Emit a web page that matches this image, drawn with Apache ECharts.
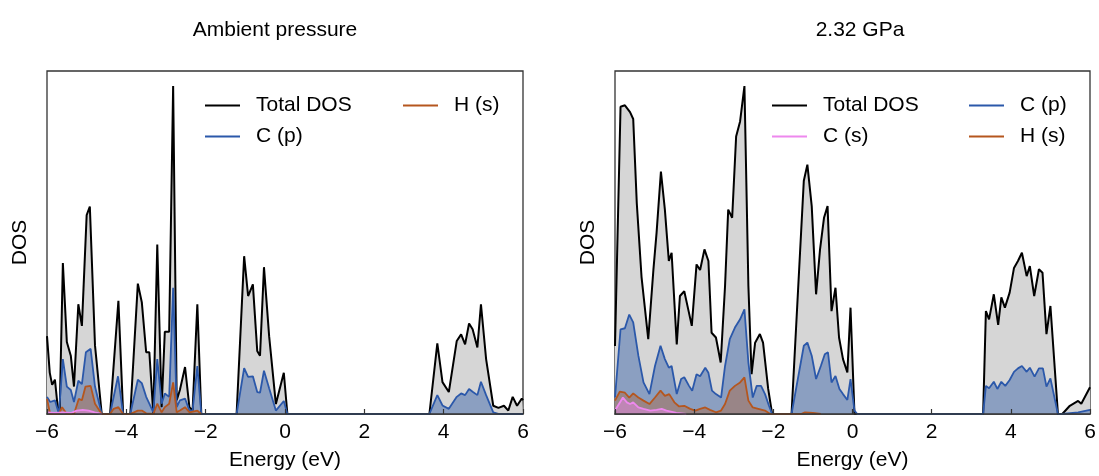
<!DOCTYPE html>
<html>
<head>
<meta charset="utf-8">
<script src="https://cdn.jsdelivr.net/npm/echarts@6/dist/echarts.min.js"></script>
<style>
  html, body { margin: 0; padding: 0; background: #fff; }
  #dos-chart { width: 1099px; height: 476px; }
</style>
</head>
<body>
<div id="dos-chart"></div>
<script>
// [energy (eV), DOS] pairs, arbitrary DOS units
const ambientTotal = [[-6, 2.27], [-5.93, 1.2], [-5.87, 0.85], [-5.8, 1.0], [-5.73, 0.2], [-5.68, 0.1], [-5.6, 4.4], [-5.5, 2.1], [-5.4, 1.7], [-5.32, 0.8], [-5.21, 3.2], [-5.12, 2.57], [-5.0, 5.8], [-4.92, 6.05], [-4.79, 2.0], [-4.62, 0], [-4.41, 0], [-4.2, 3.3], [-4.08, 0], [-3.9, 0], [-3.71, 3.8], [-3.61, 3.26], [-3.5, 1.8], [-3.42, 1.8], [-3.32, 0], [-3.22, 4.94], [-3.11, 0.2], [-3.03, 2.4], [-2.92, 2.4], [-2.82, 9.56], [-2.73, 0.4], [-2.65, 0.7], [-2.52, 1.37], [-2.41, 0.2], [-2.33, 0.1], [-2.21, 3.2], [-2.11, 0], [-1.22, 0], [-1.03, 4.6], [-0.93, 3.44], [-0.81, 3.78], [-0.7, 1.84], [-0.63, 1.7], [-0.53, 4.28], [-0.4, 2.27], [-0.23, 0.29], [-0.03, 1.2], [0.06, 0], [3.64, 0], [3.84, 2.06], [3.97, 0.93], [4.13, 0.64], [4.33, 2.13], [4.44, 2.32], [4.54, 2.03], [4.64, 2.64], [4.73, 2.47], [4.85, 1.94], [4.94, 3.2], [5.07, 1.6], [5.25, 0.24], [5.38, 0.18], [5.52, 0.24], [5.63, 0.1], [5.74, 0.5], [5.85, 0.24], [5.97, 0.45], [6, 0.4]];
const ambientCp = [[-6, 0.5], [-5.92, 0.35], [-5.8, 0.4], [-5.7, 0], [-5.6, 1.6], [-5.5, 0.8], [-5.4, 0.7], [-5.32, 0.35], [-5.21, 0.97], [-5.12, 0.87], [-5.02, 1.8], [-4.9, 1.9], [-4.79, 0.8], [-4.62, 0], [-4.41, 0], [-4.21, 1.1], [-4.08, 0], [-3.9, 0], [-3.71, 1.0], [-3.61, 0.9], [-3.5, 0.5], [-3.42, 0.3], [-3.32, 0.05], [-3.22, 1.6], [-3.11, 0.3], [-3.03, 0.6], [-2.92, 0.5], [-2.82, 3.68], [-2.73, 0.2], [-2.65, 0.4], [-2.52, 0.45], [-2.41, 0.1], [-2.33, 0.1], [-2.21, 1.4], [-2.11, 0], [-1.22, 0], [-1.03, 1.34], [-0.93, 1.08], [-0.81, 1.1], [-0.7, 0.64], [-0.63, 0.62], [-0.53, 1.26], [-0.4, 0.75], [-0.23, 0.1], [-0.03, 0.38], [0.06, 0], [3.64, 0], [3.84, 0.55], [3.97, 0.25], [4.13, 0.15], [4.33, 0.5], [4.44, 0.6], [4.54, 0.55], [4.64, 0.73], [4.73, 0.65], [4.85, 0.55], [4.94, 0.94], [5.07, 0.55], [5.25, 0.05], [5.4, 0], [6, 0]];
const ambientHs = [[-6, 0.44], [-5.92, 0], [-5.7, 0], [-5.62, 0.2], [-5.5, 0], [-5.32, 0], [-5.2, 0.44], [-5.12, 0.4], [-5.03, 0.8], [-4.9, 0.82], [-4.79, 0.3], [-4.62, 0], [-4.41, 0], [-4.32, 0.15], [-4.2, 0.2], [-4.08, 0], [-3.9, 0], [-3.71, 0.1], [-3.61, 0.1], [-3.5, 0.02], [-3.32, 0], [-3.22, 0.3], [-3.11, 0.05], [-3.03, 0.2], [-2.92, 0.3], [-2.82, 0.92], [-2.73, 0.05], [-2.65, 0.1], [-2.52, 0.2], [-2.41, 0.05], [-2.21, 0.1], [-2.11, 0]];
const ambientCs = [[-6, 0.05], [-5.8, 0.03], [-5.6, 0.05], [-5.4, 0.03], [-5.25, 0.1], [-5.1, 0.12], [-4.95, 0.1], [-4.8, 0.05], [-4.62, 0]];

const pressureTotal = [[-6, 1.98], [-5.86, 8.96], [-5.75, 9.0], [-5.62, 8.8], [-5.54, 8.6], [-5.45, 6.15], [-5.33, 4.0], [-5.16, 2.18], [-5.03, 4.2], [-4.95, 5.28], [-4.84, 7.07], [-4.74, 5.96], [-4.64, 4.46], [-4.57, 4.7], [-4.44, 2.03], [-4.36, 3.44], [-4.25, 3.58], [-4.15, 3.05], [-4.06, 2.57], [-3.94, 4.36], [-3.85, 4.2], [-3.74, 4.8], [-3.64, 4.46], [-3.56, 2.37], [-3.45, 2.23], [-3.33, 1.5], [-3.22, 3.73], [-3.14, 5.96], [-3.04, 5.72], [-2.94, 8.09], [-2.84, 8.53], [-2.73, 9.56], [-2.63, 3.73], [-2.55, 1.16], [-2.46, 2.08], [-2.34, 2.33], [-2.26, 2.08], [-2.13, 0.73], [-2.03, 0], [-1.54, 0], [-1.23, 6.8], [-1.14, 7.27], [-1.03, 6.06], [-0.92, 3.49], [-0.82, 4.8], [-0.72, 5.72], [-0.63, 6.06], [-0.53, 3.0], [-0.43, 3.68], [-0.34, 2.23], [-0.24, 1.6], [-0.13, 1.21], [-0.05, 3.1], [0.05, 0], [3.3, 0], [3.37, 3.0], [3.45, 2.76], [3.57, 3.49], [3.68, 2.6], [3.76, 3.4], [3.85, 3.1], [3.97, 3.54], [4.08, 4.26], [4.18, 4.46], [4.28, 4.7], [4.4, 4.02], [4.48, 4.31], [4.59, 3.44], [4.71, 4.22], [4.8, 4.12], [4.9, 2.33], [5.0, 3.15], [5.19, 0], [5.3, 0], [5.49, 0.24], [5.7, 0.38], [5.78, 0.3], [6, 0.78]];
const pressureCp = [[-6, 0.48], [-5.86, 2.47], [-5.75, 2.5], [-5.64, 2.9], [-5.54, 2.67], [-5.41, 1.7], [-5.28, 0.92], [-5.13, 0.58], [-4.99, 1.4], [-4.85, 1.99], [-4.74, 1.6], [-4.64, 1.35], [-4.57, 1.4], [-4.44, 0.58], [-4.33, 1.02], [-4.25, 1.07], [-4.13, 0.82], [-4.05, 0.68], [-3.94, 1.16], [-3.85, 1.1], [-3.72, 1.35], [-3.64, 1.2], [-3.55, 0.68], [-3.45, 0.58], [-3.32, 0.48], [-3.22, 1.4], [-3.1, 2.18], [-2.97, 2.52], [-2.84, 2.76], [-2.73, 3.05], [-2.63, 1.5], [-2.52, 0.48], [-2.42, 0.82], [-2.31, 0.82], [-2.21, 0.58], [-2.11, 0.24], [-2.03, 0], [-1.54, 0], [-1.23, 1.99], [-1.14, 2.08], [-1.03, 1.7], [-0.92, 1.02], [-0.8, 1.4], [-0.7, 1.74], [-0.62, 1.8], [-0.53, 0.92], [-0.43, 1.11], [-0.33, 0.73], [-0.24, 0.58], [-0.13, 0.41], [-0.05, 1.02], [0.05, 0.1], [0.12, 0], [3.3, 0], [3.37, 0.82], [3.45, 0.75], [3.57, 0.94], [3.66, 0.73], [3.76, 0.94], [3.86, 0.82], [3.97, 0.99], [4.08, 1.23], [4.18, 1.33], [4.28, 1.4], [4.4, 1.23], [4.48, 1.35], [4.6, 1.09], [4.71, 1.33], [4.81, 1.33], [4.9, 0.8], [5.0, 1.04], [5.19, 0], [5.3, 0], [5.7, 0.05], [6, 0.12]];
const pressureHs = [[-6, 0.39], [-5.88, 0.65], [-5.75, 0.62], [-5.64, 0.48], [-5.54, 0.6], [-5.41, 0.48], [-5.28, 0.39], [-5.13, 0.29], [-4.99, 0.48], [-4.85, 0.68], [-4.74, 0.53], [-4.63, 0.58], [-4.5, 0.34], [-4.38, 0.22], [-4.25, 0.24], [-4.1, 0.15], [-3.97, 0.1], [-3.85, 0.15], [-3.72, 0.19], [-3.6, 0.12], [-3.45, 0.05], [-3.32, 0.1], [-3.22, 0.29], [-3.1, 0.68], [-2.97, 0.82], [-2.84, 0.92], [-2.73, 1.07], [-2.63, 0.39], [-2.52, 0.19], [-2.38, 0.15], [-2.21, 0.1], [-2.08, 0], [-1.3, 0], [-1.2, 0.05], [-1.0, 0.03], [-0.8, 0]];
const pressureCs = [[-6, 0.1], [-5.8, 0.48], [-5.7, 0.34], [-5.62, 0.29], [-5.54, 0.34], [-5.41, 0.19], [-5.28, 0.15], [-5.11, 0.1], [-4.95, 0.12], [-4.82, 0.15], [-4.7, 0.1], [-4.45, 0.03], [-4.2, 0]];

const panelTitles = ['Ambient pressure', '2.32 GPa'];
const energyTicks = [-6, -4, -2, 0, 2, 4, 6];

const fontFamily = '"Liberation Sans", Arial, sans-serif';
const frameColor = '#333';

const partials = {
  'Total DOS': { line: '#000000', area: 'rgba(214,214,214,1)', width: 2 },
  'C (p)': { line: '#2b58aa', area: 'rgba(40,85,165,0.43)', width: 1.8 },
  'H (s)': { line: '#b5561e', area: 'rgba(181,86,30,0.35)', width: 1.8 },
  'C (s)': { line: '#ee88ee', area: 'rgba(238,136,238,0.45)', width: 1.8 },
};

function dosSeries(name, data, idx) {
  const st = partials[name];
  return {
    name,
    type: 'line',
    xAxisIndex: idx,
    yAxisIndex: idx,
    data,
    color: st.line,
    showSymbol: false,
    lineStyle: { color: st.line, width: st.width },
    areaStyle: { color: st.area, opacity: 1, origin: 'start' },
    silent: true,
  };
}

function xAxisFor(idx) {
  return {
    type: 'value',
    gridIndex: idx,
    min: -6,
    max: 6,
    interval: 2,
    z: 10,
    name: 'Energy (eV)',
    nameLocation: 'middle',
    nameGap: 36,
    nameTextStyle: { fontSize: 21, color: '#000', fontFamily },
    axisLine: { show: true, lineStyle: { color: frameColor, width: 1.5 } },
    axisTick: { show: true, inside: true, length: 5, lineStyle: { color: frameColor, width: 1.2 } },
    axisLabel: {
      fontSize: 21,
      color: '#000',
      fontFamily,
      margin: 8,
      customValues: energyTicks,
      formatter: (v) => (v < 0 ? '\u2212' + Math.abs(v) : String(v)),
    },
    splitLine: { show: false },
  };
}

function yAxisFor(idx) {
  return {
    type: 'value',
    gridIndex: idx,
    min: 0,
    max: 10,
    name: 'DOS',
    nameLocation: 'middle',
    nameRotate: 90,
    nameGap: 16,
    nameTextStyle: { fontSize: 21, color: '#000', fontFamily },
    axisLine: { show: false },
    axisTick: { show: false },
    axisLabel: { show: false },
    splitLine: { show: false },
  };
}

function legendCol(left, names) {
  return {
    left,
    top: 90,
    orient: 'vertical',
    data: names,
    icon: 'rect',
    itemWidth: 35,
    itemHeight: 2,
    itemGap: 10,
    selectedMode: false,
    textStyle: { fontSize: 21, color: '#000', fontFamily, lineHeight: 21, padding: [0, 0, 0, 11] },
  };
}

const option = {
  animation: false,
  backgroundColor: '#fff',
  title: [
    { text: panelTitles[0], left: 270, top: 15, textAlign: 'center', textStyle: { fontSize: 21, fontWeight: 'normal', color: '#000', fontFamily } },
    { text: panelTitles[1], left: 855, top: 15, textAlign: 'center', textStyle: { fontSize: 21, fontWeight: 'normal', color: '#000', fontFamily } },
  ],
  legend: [
    legendCol(200, ['Total DOS', 'C (p)']),
    legendCol(398, ['H (s)']),
    legendCol(767, ['Total DOS', 'C (s)']),
    legendCol(964, ['C (p)', 'H (s)']),
  ],
  grid: [
    { left: 47, top: 71, width: 476, height: 344, show: true, borderColor: frameColor, borderWidth: 1.3, backgroundColor: 'transparent' },
    { left: 615, top: 71, width: 475, height: 344, show: true, borderColor: frameColor, borderWidth: 1.3, backgroundColor: 'transparent' },
  ],
  xAxis: [xAxisFor(0), xAxisFor(1)],
  yAxis: [yAxisFor(0), yAxisFor(1)],
  series: [
    dosSeries('Total DOS', ambientTotal, 0),
    dosSeries('C (p)', ambientCp, 0),
    dosSeries('H (s)', ambientHs, 0),
    dosSeries('C (s)', ambientCs, 0),
    dosSeries('Total DOS', pressureTotal, 1),
    dosSeries('C (p)', pressureCp, 1),
    dosSeries('H (s)', pressureHs, 1),
    dosSeries('C (s)', pressureCs, 1),
  ],
};

const myChart = echarts.init(document.getElementById('dos-chart'));
myChart.setOption(option);
</script>
</body>
</html>
